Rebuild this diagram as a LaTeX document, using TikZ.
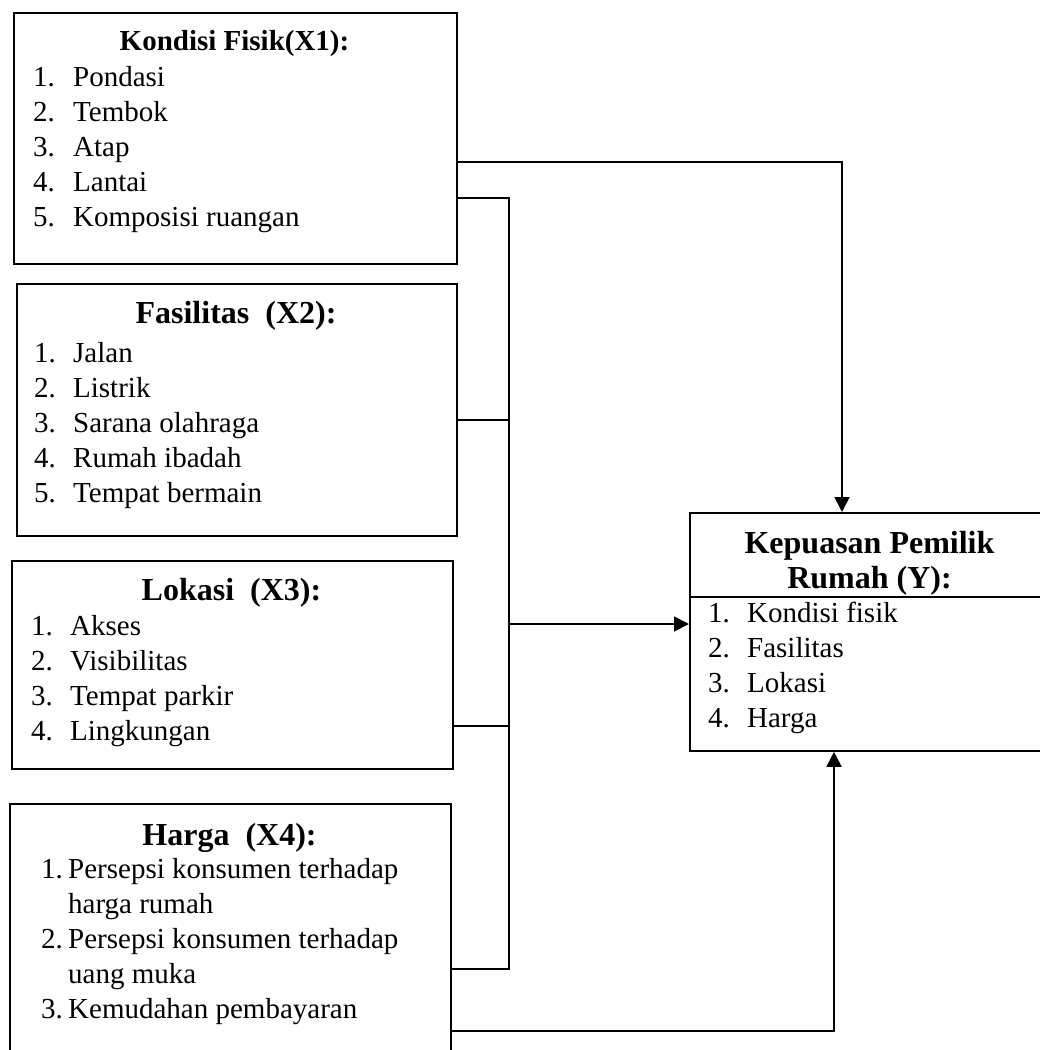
\documentclass[tikz,border=0pt]{standalone}
\usepackage{fontspec}
\setmainfont{Liberation Serif}
\usetikzlibrary{arrows.meta}
\begin{document}
\begin{tikzpicture}[x=1pt,y=-1pt,
  box/.style={draw,line width=1.8pt,rectangle,inner sep=0pt,anchor=north west},
  ttl/.style={inner sep=0pt,anchor=base,font=\fontsize{32}{35}\selectfont\bfseries},
  ttlsmall/.style={inner sep=0pt,anchor=base,font=\fontsize{29}{35}\selectfont\bfseries},
  lst/.style={inner sep=0pt,anchor=base west,font=\fontsize{29}{35}\selectfont},
  conn/.style={line width=1.8pt},
  arr/.style={conn,-{Triangle[length=15pt,width=15pt]}}]
\useasboundingbox (0,0) rectangle (1040,1050);
\clip (0,0) rectangle (1040,1050);

% boxes
\node[box,minimum width=443pt,minimum height=251pt] (b1) at (13,12) {};
\node[box,minimum width=440pt,minimum height=252pt] (b2) at (16,283) {};
\node[box,minimum width=441pt,minimum height=208pt] (b3) at (11,560) {};
\node[box,minimum width=441pt,minimum height=280pt] (b4) at (9,803) {};
\node[box,minimum width=365pt,minimum height=238pt] (Y) at (689,512) {};
\coordinate (ysep) at (689,597);
\draw[line width=1.8pt] (Y.west |- ysep) -- (Y.east |- ysep);

% texts
\node[ttlsmall] (t1) at (234.5,50) {Kondisi Fisik(X1):};
\node[lst] (l1) at (33,86) {\begin{tabular}[t]{@{}p{40pt}@{}l@{}}1. & Pondasi\\ 2. & Tembok\\ 3. & Atap\\ 4. & Lantai\\ 5. & Komposisi ruangan\end{tabular}};

\node[ttl] (t2) at (236,323) {Fasilitas\ \ (X2):};
\node[lst] (l2) at (34,362) {\begin{tabular}[t]{@{}p{39pt}@{}l@{}}1. & Jalan\\ 2. & Listrik\\ 3. & Sarana olahraga\\ 4. & Rumah ibadah\\ 5. & Tempat bermain\end{tabular}};

\node[ttl] (t3) at (231.5,600) {Lokasi\ \ (X3):};
\node[lst] (l3) at (31,635) {\begin{tabular}[t]{@{}p{39pt}@{}l@{}}1. & Akses\\ 2. & Visibilitas\\ 3. & Tempat parkir\\ 4. & Lingkungan\end{tabular}};

\node[ttl] (t4) at (229.5,845) {Harga\ \ (X4):};
\node[lst] (l4) at (41,878) {\begin{tabular}[t]{@{}p{27pt}@{}l@{}}1. & Persepsi konsumen terhadap\\ & harga rumah\\ 2. & Persepsi konsumen terhadap\\ & uang muka\\ 3. & Kemudahan pembayaran\end{tabular}};

\node[ttl] (ty1) at (869.5,553) {Kepuasan Pemilik};
\node[ttl] (ty2) at (869.5,588) {Rumah (Y):};
\node[lst] (ly) at (708,622) {\begin{tabular}[t]{@{}p{39pt}@{}l@{}}1. & Kondisi fisik\\ 2. & Fasilitas\\ 3. & Lokasi\\ 4. & Harga\end{tabular}};

% connectors
\coordinate (jt) at (509,198);
\coordinate (jb) at (509,969);
\coordinate (jm) at (509,624);
\coordinate (j2) at (509,420);
\coordinate (j3) at (509,726);
\coordinate (ct) at (842,162);
\coordinate (cb) at (834,1031);

\draw[conn] (b1.east |- jt) -- (jt) -- (jb) -- (b4.east |- jb);
\draw[conn] (b2.east |- j2) -- (j2);
\draw[conn] (b3.east |- j3) -- (j3);
\draw[arr] (jm) -- (Y.west |- jm);
\draw[arr] (b1.east |- ct) -- (ct) -- (Y.north -| ct);
\draw[arr] (b4.east |- cb) -- (cb) -- (Y.south -| cb);
\end{tikzpicture}
\end{document}
